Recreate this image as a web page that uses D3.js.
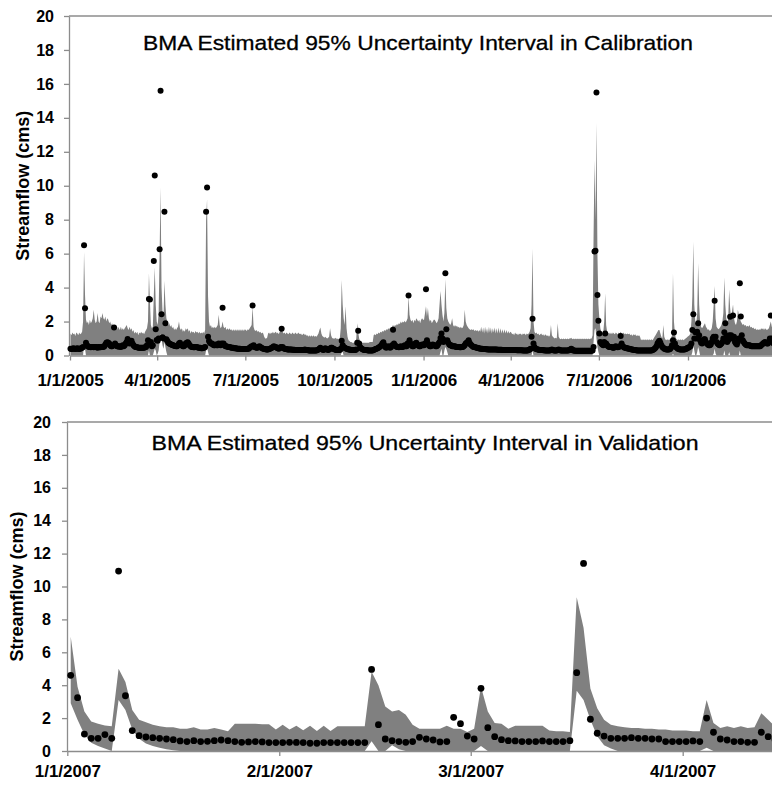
<!DOCTYPE html>
<html>
<head>
<script src="https://d3js.org/d3.v7.min.js"></script>
<style>
  body { margin: 0; background: #fff; }
  svg { display: block; font-family: "Liberation Sans", Arial, sans-serif; }
  .axis path, .axis line { stroke: #8c8c8c; stroke-width: 1.3; }
  .axis text { fill: #000; font-weight: bold; }
  .band { fill: #808080; }
  .obs { fill: #000; }
</style>
</head>
<body>
<svg width="772" height="788"></svg>
<script>
const parseDay = d3.timeParse('%m/%d/%Y');

const yTicks = [0, 2, 4, 6, 8, 10, 12, 14, 16, 18, 20];
const calTickLabels = ['1/1/2005', '4/1/2005', '7/1/2005', '10/1/2005', '1/1/2006', '4/1/2006', '7/1/2006', '10/1/2006'];
const valTickLabels = ['1/1/2007', '2/1/2007', '3/1/2007', '4/1/2007'];

// calibration period, one row per month starting Jan 2005 (daily values, cms)
const calObs = [
  [0.4,0.38,0.4,0.42,0.4,0.38,0.4,0.42,0.4,0.38,0.4,0.42,0.45,0.5,6.5,2.78,0.75,0.6,0.55,0.5,0.5,0.48,0.5,0.5,0.48,0.5,0.5,0.48,0.45,0.5,0.48],
  [0.48,0.5,0.52,0.5,0.55,0.65,0.75,0.78,0.75,0.7,0.6,0.55,0.55,0.6,1.65,0.7,0.6,0.55,0.55,0.52,0.55,0.5,0.55,0.6,0.55,0.6,0.7,0.8],
  [0.97,0.8,0.7,0.75,0.87,0.7,0.6,0.55,0.5,0.5,0.48,0.45,0.45,0.45,0.45,0.45,0.45,0.45,0.48,0.5,0.6,0.9,3.33,3.3,0.8,0.55,0.6,5.57,10.6,1.54,0.91],
  [0.87,1.0,6.26,15.6,2.43,1.07,1.0,8.47,1.9,0.95,0.85,0.75,0.7,0.68,0.65,0.62,0.6,0.58,0.56,0.55,0.55,0.6,0.7,0.75,0.65,0.6,0.55,0.55,0.6,0.7],
  [0.75,0.78,0.7,0.6,0.55,0.5,0.5,0.48,0.48,0.5,0.5,0.48,0.45,0.45,0.45,0.42,0.42,0.45,0.45,0.5,8.47,9.89,1.1,0.85,0.75,0.7,0.7,0.65,0.6,0.6,0.65],
  [0.6,0.6,0.7,0.65,0.6,0.7,2.82,0.7,0.6,0.55,0.55,0.52,0.5,0.5,0.48,0.45,0.45,0.45,0.42,0.42,0.42,0.4,0.4,0.4,0.4,0.38,0.38,0.38,0.38,0.38],
  [0.38,0.38,0.4,0.4,0.45,0.5,0.55,2.95,0.6,0.5,0.48,0.45,0.45,0.5,0.55,0.5,0.45,0.42,0.4,0.38,0.38,0.36,0.36,0.36,0.38,0.4,0.42,0.45,0.5,0.55,0.5],
  [0.5,0.45,0.42,0.4,0.42,0.5,1.57,0.5,0.42,0.4,0.38,0.38,0.36,0.36,0.35,0.35,0.35,0.34,0.34,0.34,0.33,0.33,0.33,0.33,0.32,0.32,0.32,0.32,0.32,0.33,0.35],
  [0.33,0.32,0.32,0.3,0.3,0.3,0.3,0.3,0.3,0.3,0.3,0.3,0.32,0.35,0.4,0.45,0.4,0.35,0.33,0.35,0.42,0.38,0.35,0.33,0.35,0.4,0.45,0.45,0.4,0.38],
  [0.35,0.33,0.33,0.32,0.32,0.33,0.4,0.87,0.6,0.5,0.45,0.42,0.4,0.38,0.36,0.35,0.34,0.33,0.33,0.32,0.32,0.32,0.35,0.75,1.46,0.7,0.5,0.42,0.38,0.35,0.33],
  [0.33,0.32,0.32,0.3,0.3,0.3,0.3,0.3,0.3,0.32,0.35,0.38,0.4,0.42,0.45,0.5,0.55,0.6,0.7,0.78,0.6,0.5,0.45,0.5,0.55,0.5,0.45,0.5,0.6,1.52],
  [0.7,0.6,0.55,0.5,0.5,0.48,0.5,0.55,0.5,0.5,0.55,0.6,0.55,0.55,0.7,3.54,0.9,0.7,0.6,0.55,0.55,0.6,0.7,0.75,0.65,0.6,0.55,0.55,0.6,0.65,0.6],
  [0.6,0.7,3.9,0.9,0.7,0.6,0.55,0.55,0.6,0.65,0.6,0.6,0.55,0.55,0.6,0.7,0.8,1.03,1.3,1.0,0.8,0.9,4.84,1.55,0.9,0.75,0.65,0.6,0.6,0.55,0.55],
  [0.55,0.55,0.5,0.5,0.5,0.5,0.48,0.48,0.5,0.5,0.55,0.6,0.7,0.75,0.8,0.9,0.75,0.65,0.6,0.55,0.5,0.5,0.48,0.45,0.45,0.42,0.42,0.4],
  [0.4,0.4,0.38,0.38,0.38,0.37,0.37,0.36,0.36,0.36,0.36,0.35,0.35,0.35,0.35,0.35,0.35,0.34,0.34,0.34,0.34,0.34,0.33,0.33,0.33,0.33,0.33,0.33,0.32,0.32,0.32],
  [0.32,0.32,0.32,0.32,0.32,0.32,0.31,0.31,0.31,0.31,0.31,0.31,0.3,0.3,0.3,0.3,0.3,0.3,0.32,0.35,0.4,1.1,2.17,0.7,0.5,0.4,0.38,0.35,0.35,0.33],
  [0.33,0.32,0.32,0.31,0.31,0.3,0.3,0.3,0.3,0.3,0.3,0.32,0.35,0.32,0.3,0.3,0.3,0.3,0.32,0.35,0.33,0.3,0.3,0.3,0.3,0.29,0.29,0.29,0.29,0.3,0.32],
  [0.35,0.4,0.35,0.3,0.29,0.28,0.28,0.28,0.28,0.28,0.28,0.28,0.28,0.28,0.28,0.28,0.28,0.28,0.28,0.28,0.28,0.28,0.28,0.3,0.5,6.12,6.17,15.5,3.57,2.05],
  [1.3,0.8,0.7,0.65,0.6,0.8,1.3,0.7,0.6,0.55,0.5,0.5,0.5,0.48,0.45,0.45,0.5,0.55,0.5,0.48,0.5,0.55,1.15,0.7,0.55,0.5,0.45,0.45,0.42,0.42,0.4],
  [0.4,0.38,0.36,0.35,0.34,0.33,0.32,0.31,0.3,0.3,0.3,0.3,0.3,0.29,0.29,0.29,0.3,0.3,0.3,0.3,0.3,0.3,0.3,0.3,0.32,0.35,0.4,0.45,0.55,0.7,0.8],
  [0.87,0.75,0.6,0.5,0.45,0.4,0.38,0.35,0.35,0.35,0.35,0.38,0.45,0.6,0.9,1.35,0.7,0.5,0.45,0.4,0.38,0.36,0.35,0.35,0.35,0.35,0.36,0.38,0.4,0.45],
  [0.45,0.5,0.55,0.7,1.5,2.43,1.0,1.37,1.0,1.4,1.9,1.2,0.9,0.75,0.7,0.8,0.95,0.95,0.8,0.7,0.65,0.6,0.6,0.65,0.8,1.0,1.1,3.23,1.1,0.8,0.7],
  [0.65,0.6,0.65,0.7,0.8,1.0,1.37,1.9,1.1,0.8,0.9,1.2,2.29,1.2,1.0,2.35,1.1,0.8,0.7,0.65,0.8,1.0,4.25,2.3,1.2,0.9,0.8,0.7,0.65,0.6],
  [0.6,0.6,0.6,0.58,0.55,0.55,0.55,0.55,0.55,0.55,0.55,0.55,0.55,0.55,0.6,0.65,0.7,0.75,0.8,0.75,0.7,0.7,0.8,1.0,2.35,1.0,0.8,0.7,0.65,0.6,0.6]
];

// upper 95% bound, same layout
const calUpper = [
  [1.3,1.2,1.35,1.25,1.3,1.15,1.35,1.3,1.2,1.35,1.25,1.3,1.4,2.0,6.1,3.6,2.1,1.9,2.0,1.8,2.1,1.9,2.0,2.2,2.7,2.1,1.9,2.0,2.5,2.0,1.9],
  [2.3,2.2,2.5,2.2,2.1,2.3,2.0,2.2,2.1,1.9,2.0,1.8,1.9,1.7,1.8,1.6,1.7,1.5,1.7,1.6,1.5,1.7,1.5,1.6,1.5,1.6,1.7,1.8],
  [1.6,1.5,1.7,1.5,1.6,1.4,1.5,1.3,1.4,1.3,1.4,1.2,1.35,1.3,1.4,1.3,1.35,1.25,1.4,1.5,1.6,2.0,4.84,3.2,1.8,1.6,1.7,3.5,5.2,3.0,2.0],
  [1.8,2.5,6.0,9.9,4.0,2.6,2.2,4.4,3.0,2.2,2.0,1.8,1.9,1.7,1.8,1.6,1.7,1.5,1.6,1.5,1.6,1.7,2.0,1.6,1.5,1.6,1.4,1.5,1.4,1.6],
  [1.5,1.6,1.4,1.5,1.3,1.45,1.35,1.4,1.3,1.45,1.35,1.4,1.3,1.4,1.3,1.35,1.3,1.4,1.3,1.5,8.0,9.2,3.5,2.0,1.7,1.8,1.6,1.7,1.6,1.7,1.6],
  [1.7,1.8,2.4,1.8,1.6,1.7,2.0,1.7,1.6,1.7,1.5,1.6,1.5,1.6,1.5,1.55,1.45,1.55,1.45,1.55,1.45,1.55,1.45,1.55,1.45,1.55,1.45,1.55,1.45,1.55],
  [1.5,1.45,1.55,1.5,1.6,1.7,1.8,2.9,1.7,1.5,1.45,1.5,1.4,1.45,1.35,1.4,1.3,1.35,1.3,1.1,1.0,1.0,1.05,1.3,1.35,1.25,1.35,1.3,1.4,1.3,1.35],
  [1.4,1.3,1.35,1.25,1.4,1.5,1.6,1.4,1.3,1.35,1.25,1.35,1.3,1.25,1.35,1.3,1.25,1.35,1.3,1.25,1.35,1.3,1.25,1.35,1.3,1.25,1.3,1.2,1.25,1.3,1.2],
  [1.25,1.15,1.2,1.1,1.2,1.1,1.2,1.1,1.2,1.1,1.15,1.1,1.2,1.3,1.5,1.65,1.3,1.15,1.1,1.05,1.1,1.05,1.0,1.05,1.1,1.6,1.2,1.05,1.0,1.0],
  [1.0,1.05,0.95,1.0,0.95,1.0,1.6,4.45,3.0,2.2,1.8,2.9,1.6,1.1,0.9,0.85,0.8,0.8,0.75,0.75,0.75,0.75,1.0,1.9,1.4,1.0,0.85,0.8,0.75,0.75,0.75],
  [0.75,0.75,0.75,0.75,0.75,0.8,0.8,0.8,0.8,1.2,1.25,1.2,1.3,1.25,1.35,1.3,1.4,1.35,1.45,1.4,1.5,1.45,1.55,1.5,1.6,1.55,1.65,1.6,1.7,1.8],
  [1.7,1.8,1.75,1.85,1.8,1.9,1.85,2.0,1.9,2.0,1.95,2.05,1.95,2.05,2.2,3.5,2.4,2.1,2.0,2.1,1.9,2.1,2.0,2.2,2.1,2.0,2.1,1.9,2.1,2.2,2.1],
  [2.1,2.5,2.9,2.3,2.8,2.2,2.0,2.1,1.9,2.0,2.1,2.1,2.0,1.9,2.0,2.2,3.0,3.8,3.0,2.4,2.0,2.5,4.5,2.8,2.2,2.0,1.9,1.8,1.9,2.2,1.8],
  [1.7,1.8,1.7,1.75,1.65,1.7,1.6,1.7,1.6,1.65,1.8,2.7,2.0,1.8,1.7,1.6,1.55,1.5,1.55,1.5,1.55,1.45,1.5,1.45,1.5,1.4,1.5,1.4],
  [1.7,1.35,1.65,1.3,1.7,1.35,1.6,1.3,1.7,1.35,1.65,1.3,1.6,1.35,1.65,1.3,1.6,1.3,1.65,1.3,1.6,1.3,1.55,1.3,1.55,1.3,1.5,1.3,1.45,1.3,1.4],
  [1.35,1.25,1.3,1.2,1.35,1.25,1.3,1.2,1.3,1.25,1.3,1.2,1.3,1.25,1.3,1.2,1.3,1.25,1.3,1.4,1.6,3.0,6.3,2.0,1.4,1.3,1.35,1.25,1.3,1.2],
  [1.25,1.3,1.2,1.25,1.15,1.25,1.2,1.15,1.2,1.1,1.2,1.8,1.2,1.1,1.05,1.0,1.05,1.0,1.9,1.1,1.0,0.95,1.0,0.95,1.0,0.95,1.0,0.95,1.0,0.95,1.0],
  [1.0,1.05,0.95,1.0,0.95,1.0,0.95,1.0,0.95,1.0,0.95,1.0,0.95,1.0,0.95,1.0,0.95,1.0,0.95,1.0,0.95,1.0,1.0,1.2,7.0,11.5,8.0,13.7,6.0,3.0],
  [2.2,1.6,1.4,1.3,1.35,2.0,3.67,1.8,1.4,1.3,1.35,1.25,1.35,1.25,1.35,1.3,1.25,1.35,1.3,1.25,1.35,1.3,1.4,1.3,1.25,1.35,1.25,1.3,1.25,1.3,1.25],
  [1.3,1.2,1.25,1.15,1.25,1.2,1.25,1.15,1.2,1.15,1.2,1.1,0.9,0.95,0.9,0.95,0.9,0.95,0.9,0.95,0.9,0.95,0.9,0.95,0.9,1.0,1.1,1.2,1.3,1.4,1.5],
  [1.5,1.3,1.1,1.0,1.8,1.1,0.95,0.9,0.95,0.9,0.95,0.9,1.0,1.2,4.84,2.0,1.3,1.0,0.95,0.9,0.95,0.9,0.95,0.9,0.95,0.9,0.95,1.0,1.05,1.1],
  [1.15,1.2,1.3,2.0,3.5,6.7,3.0,2.0,1.8,2.5,5.45,3.0,2.0,1.7,1.6,1.7,1.8,1.9,1.7,1.6,1.5,1.55,1.45,1.5,1.6,2.0,3.0,4.1,2.2,1.7,1.6],
  [1.55,1.6,1.7,1.8,2.0,2.5,4.6,3.0,2.2,1.9,2.2,3.9,2.8,2.2,2.6,3.0,2.2,1.9,1.8,2.0,2.7,2.4,2.2,2.0,1.9,1.8,1.85,1.75,1.8,1.7],
  [1.75,1.7,1.8,1.65,1.7,1.6,1.65,1.55,1.6,1.5,1.55,1.5,1.55,1.5,1.6,1.55,1.6,1.5,1.6,1.55,1.5,1.55,1.6,1.8,2.0,1.7,1.6,1.55,1.5,1.5,1.5]
];

// lower 95% bound: it sits on zero except on these days
const calLower = [
  ['1/15/2005', 0.8], ['1/16/2005', 0.4], ['3/23/2005', 0.3], ['3/28/2005', 0.2], ['3/29/2005', 0.4], ['3/30/2005', 0.3],
  ['4/1/2005', 0.1], ['4/2/2005', 0.3], ['4/3/2005', 0.8], ['4/4/2005', 1.3], ['4/5/2005', 1.0], ['4/6/2005', 0.6],
  ['4/7/2005', 0.4], ['4/8/2005', 0.8], ['4/9/2005', 0.5], ['4/10/2005', 0.2], ['5/21/2005', 0.3], ['5/22/2005', 0.5],
  ['5/23/2005', 0.2], ['10/8/2005', 0.2], ['10/9/2005', 0.2], ['1/18/2006', 0.2], ['1/19/2006', 0.4], ['1/22/2006', 0.3],
  ['1/23/2006', 0.5], ['1/24/2006', 0.4], ['1/25/2006', 0.2], ['4/23/2006', 0.3], ['6/25/2006', 0.8], ['6/26/2006', 1.5],
  ['6/27/2006', 1.6], ['6/28/2006', 1.0], ['6/29/2006', 0.5], ['6/30/2006', 0.2], ['9/15/2006', 0.1], ['10/5/2006', 0.2],
  ['10/6/2006', 0.6], ['10/7/2006', 0.3], ['10/10/2006', 0.2], ['10/11/2006', 0.5], ['10/12/2006', 0.3], ['10/27/2006', 0.1],
  ['10/28/2006', 0.4], ['10/29/2006', 0.1], ['11/7/2006', 0.3], ['11/12/2006', 0.2], ['11/23/2006', 0.3]
];

// validation period, daily from 1/1/2007
const valObs = [
  4.6,3.24,1.03,0.77,0.77,1.0,0.77,10.94,3.36,1.24,
  0.93,0.85,0.81,0.77,0.73,0.69,0.61,0.57,0.63,0.57,
  0.59,0.63,0.67,0.63,0.57,0.53,0.55,0.57,0.55,0.51,
  0.51,0.51,0.53,0.52,0.51,0.47,0.47,0.51,0.51,0.51,
  0.51,0.51,0.51,0.51,4.96,1.6,0.73,0.63,0.57,0.53,
  0.57,0.83,0.73,0.67,0.55,0.57,2.05,1.66,0.91,0.73,
  3.81,1.42,0.87,0.69,0.63,0.61,0.57,0.57,0.57,0.61,
  0.57,0.57,0.57,0.63,4.76,11.4,1.93,1.08,0.91,0.77,
  0.77,0.77,0.81,0.77,0.77,0.73,0.73,0.57,0.57,0.57,
  0.57,0.61,0.57,2.0,1.14,0.73,0.67,0.57,0.57,0.53,
  0.53,1.14,0.87,0.7
];
const valUpper = [
  6.95,3.9,2.4,1.8,1.65,1.55,1.5,5.0,4.2,2.5,
  1.9,1.75,1.6,1.5,1.45,1.45,1.35,1.35,1.45,1.3,
  1.3,1.4,1.3,1.2,1.65,1.65,1.65,1.65,1.62,1.62,
  1.3,1.6,1.3,1.54,1.26,1.54,1.22,1.54,1.22,1.5,
  1.5,1.5,1.5,1.5,4.82,4.0,2.7,2.4,2.5,2.2,
  1.6,1.35,1.35,1.35,1.35,1.54,1.35,1.35,1.15,1.35,
  3.9,2.4,1.7,1.65,1.35,1.54,1.54,1.54,1.54,1.54,
  1.25,1.2,1.2,1.15,9.34,7.5,3.8,2.6,1.9,1.6,
  1.5,1.45,1.4,1.4,1.35,1.35,1.3,1.3,1.25,1.25,
  1.25,1.2,1.2,3.1,1.7,1.4,1.5,1.4,1.5,1.4,
  1.45,2.3,1.9,1.5
];
const valLower = [
  2.9,1.9,1.0,0.5,0.3,0.15,0,3.1,2.5,1.3,
  0.75,0.45,0.3,0.2,0.1,0.05,0,0,0,0,
  0,0,0,0,0,0,0,0,0,0,
  0,0,0,0,0,0,0,0,0,0,
  0,0,0,0,0.6,0,0,0.35,0.1,0,
  0,0,0,0,0,0,0,0,0,0,
  0.3,0,0,0,0,0,0,0,0,0,
  0,0,0,0,3.67,3.1,1.9,0.9,0.35,0.15,
  0,0,0,0,0,0,0,0,0,0,
  0,0,0,0.2,0,0,0,0,0,0,
  0,0,0,0
];

// ---- build daily rows ----
const lowerByDay = new Map(calLower.map(d => [+parseDay(d[0]), d[1]]));
const calData = [];
calObs.forEach((month, m) => {
  month.forEach((v, i) => {
    const date = new Date(2005, m, i + 1);
    calData.push({date, obs: v, hi: calUpper[m][i], lo: lowerByDay.get(+date) || 0});
  });
});

const valStart = parseDay(valTickLabels[0]);
const valData = valObs.map((v, i) => ({
  date: d3.timeDay.offset(valStart, i), obs: v, hi: valUpper[i], lo: valLower[i]
}));

const svg = d3.select('svg');
svg.append('rect').attr('width', 772).attr('height', 788).attr('fill', '#fff');

function drawPanel(cfg) {
  const ticks = cfg.tickLabels.map(parseDay);
  // tick positions measured on the first and last labelled tick, axis then runs to the right edge
  const x = d3.scaleTime()
      .domain([ticks[0], ticks[ticks.length - 1]])
      .range([cfg.firstTickX, cfg.lastTickX]);
  x.domain([ticks[0], x.invert(772)]).range([cfg.firstTickX, 772]);

  const y = d3.scaleLinear().domain([0, 20]).range([cfg.bottom, cfg.top]);
  const px = d => x(d3.timeHour.offset(d.date, 12));

  const g = svg.append('g');

  const area = d3.area()
      .x(px)
      .y0(d => y(d.lo))
      .y1(d => y(d.hi));

  g.append('path')
      .datum(cfg.data)
      .attr('class', 'band')
      .attr('d', area);

  // top border line
  g.append('line')
      .attr('x1', cfg.left).attr('x2', 772)
      .attr('y1', cfg.top).attr('y2', cfg.top)
      .attr('stroke', '#8c8c8c').attr('stroke-width', 1.3);

  g.append('g')
      .attr('class', 'axis')
      .attr('transform', `translate(${cfg.left},0)`)
      .call(d3.axisLeft(y).tickValues(yTicks).tickSize(5).tickSizeOuter(0).tickPadding(cfg.yPad))
      .call(s => s.selectAll('text').style('font-size', '16px'));

  g.append('g')
      .attr('class', 'axis')
      .attr('transform', `translate(0,${cfg.bottom})`)
      .call(d3.axisBottom(x).tickValues(ticks)
          .tickFormat((d, i) => cfg.tickLabels[i])
          .tickSize(5).tickSizeOuter(0).tickPadding(cfg.xPad))
      .call(s => s.selectAll('text').style('font-size', '17px'));

  g.selectAll('.obs')
      .data(cfg.data)
      .enter()
      .append('circle')
      .attr('class', 'obs')
      .attr('cx', px)
      .attr('cy', d => y(d.obs))
      .attr('r', cfg.r);

  g.append('text')
      .attr('x', cfg.titleX).attr('y', cfg.titleY)
      .attr('text-anchor', 'middle')
      .attr('textLength', cfg.titleW)
      .attr('lengthAdjust', 'spacingAndGlyphs')
      .style('font-size', '21px')
      .style('stroke', '#000').style('stroke-width', 0.3)
      .text(cfg.title);

  g.append('text')
      .attr('transform', `translate(${cfg.yTitleX},${(cfg.top + cfg.bottom) / 2}) rotate(-90)`)
      .attr('text-anchor', 'middle')
      .style('font-size', '18px')
      .style('font-weight', 'bold')
      .text('Streamflow (cms)');
}

drawPanel({
  data: calData, tickLabels: calTickLabels,
  firstTickX: 70, lastTickX: 688, left: 69, top: 16, bottom: 355.5,
  xPad: 13, yPad: 10, r: 3,
  title: 'BMA Estimated 95%  Uncertainty Interval in Calibration',
  titleX: 418, titleY: 50, titleW: 550, yTitleX: 29
});

drawPanel({
  data: valData, tickLabels: valTickLabels,
  firstTickX: 67.3, lastTickX: 682.7, left: 67, top: 422, bottom: 751,
  xPad: 9, yPad: 11, r: 3.4,
  title: 'BMA Estimated 95%  Uncertainty Interval in Validation',
  titleX: 425, titleY: 450, titleW: 547, yTitleX: 23
});
</script>
</body>
</html>
